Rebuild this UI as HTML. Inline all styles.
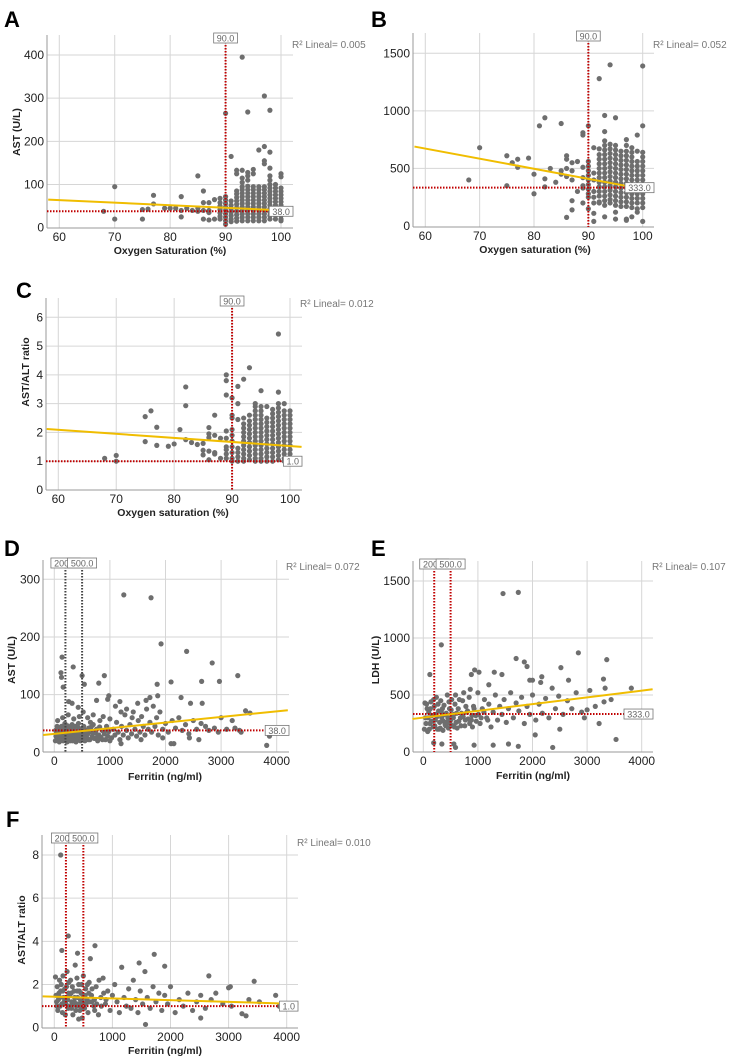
<!DOCTYPE html>
<html><head><meta charset="utf-8">
<style>
html,body{margin:0;padding:0;background:#fff;}
svg{display:block;font-family:"Liberation Sans",Arial,sans-serif;}
</style></head>
<body>
<svg id="fig" width="729" height="1059" viewBox="0 0 729 1059" xmlns="http://www.w3.org/2000/svg"></svg>
<script>
// ===== DATA =====
const satTicks=[60,70,80,90,100];
const ferTicks=[0,1000,2000,3000,4000];
const aYTicks=[0,100,200,300,400];
const bYTicks=[0,500,1000,1500];
const cYTicks=[0,1,2,3,4,5,6];
const dYTicks=[0,100,200,300];
const eYTicks=[0,500,1000,1500];
const fYTicks=[0,2,4,6,8];
const r2Labels=["R² Lineal= 0.005","R² Lineal= 0.052","R² Lineal= 0.012","R² Lineal= 0.072","R² Lineal= 0.107","R² Lineal= 0.010"];
const fitA=[[58,65],[102,39]];
const fitB=[[58,690],[98.5,335]];
const fitC=[[58,2.12],[102,1.5]];
const fitD=[[-200,30],[4200,73]];
const fitE=[[-200,290],[4200,550]];
const fitF=[[-200,1.45],[4200,1.1]];
const refA={v:[90],h:38}, refB={v:[90],h:333}, refC={v:[90],h:1.0};
const refD={v:[200,500],h:38}, refE={v:[200,500],h:333}, refF={v:[200,500],h:1.0};

const aCols=[[68,[38]],[70,[95,20]],[75,[42,20]],[76,[43]],[77,[75,55]],[79,[45]],[80,[45]],[81,[45]],[82,[72,40,25]],[83,[45]],[84,[40]],[85,[120,45,38]],[86,[85,58,40,20]],[87,[58,40,35,18]],[88,[65,20]],[89,[68,58,50,42,34,26,20]],[90,[265,72,64,56,48,40,32,24,16,8]],[91,[165,62,52,44,36,28,20,14]],[92,[133,125,85,78,70,62,54,46,38,30,22,15]],[93,[395,133,115,105,95,88,80,72,64,56,48,40,32,24,16]],[94,[268,128,120,110,96,88,80,72,64,56,48,40,32,24,16]],[95,[135,125,95,88,80,72,64,56,48,40,32,24,16]],[96,[180,95,88,80,72,64,56,48,40,32,24,16]],[97,[305,188,155,148,95,88,80,72,64,56,48,40,32,24,16]],[98,[272,175,138,120,110,100,92,84,76,68,60,52,44,36,28,20]],[99,[100,92,84,76,68,60,52,44,36,28,20]],[100,[125,118,92,84,76,68,60,52,44,36,28,20,16]]];
const bCols=[[68,[400]],[70,[680]],[75,[610,350]],[76,[550]],[77,[580,510]],[79,[590]],[80,[450,280]],[81,[870]],[82,[940,410,340]],[83,[500]],[84,[380]],[85,[890,480,450]],[86,[610,580,500,430,75]],[87,[550,480,400,220,140]],[88,[560,300]],[89,[810,790,510,420,350,330,200]],[90,[870,560,520,480,440,400,360,320,280,250,150]],[91,[680,460,400,300,250,200,110,40]],[92,[1280,670,620,580,540,500,460,420,380,340,300,260,210,200]],[93,[960,820,740,700,660,620,580,540,500,460,420,380,340,300,260,220,180,80]],[94,[1400,710,670,630,590,550,510,470,430,390,350,310,270,230,200]],[95,[940,700,660,620,580,540,500,460,420,380,340,300,260,220,180,120,60]],[96,[650,610,570,530,490,450,410,370,330,290,250,210,170]],[97,[750,700,650,610,570,530,490,450,410,370,330,290,250,210,170,60,50]],[98,[680,640,600,560,520,480,440,400,360,320,280,240,200,160,80]],[99,[790,650,560,520,480,440,400,360,320,280,240,200,150,120]],[100,[1390,870,640,600,560,520,480,440,400,360,320,280,240,200,160,40]]];
const cCols=[[68,[1.1]],[70,[1.2,1.0]],[75,[2.55,1.68]],[76,[2.75]],[77,[2.18,1.55]],[79,[1.52]],[80,[1.6]],[81,[2.1]],[82,[3.58,2.93,1.75]],[83,[1.65]],[84,[1.58]],[85,[1.62,1.38,1.22]],[86,[2.17,1.95,1.82,1.35,1.05]],[87,[2.6,1.9,1.3,1.25]],[88,[1.8,1.1]],[89,[4.0,3.8,3.3,2.05,1.8,1.5,1.4,1.25,1.1]],[90,[3.2,2.6,2.5,2.1,1.9,1.7,1.5,1.3,1.1,1.0]],[91,[3.6,3.0,2.45,1.45,1.3,1.15,1.0]],[92,[3.85,2.5,2.3,2.15,2.0,1.85,1.7,1.55,1.4,1.25,1.1,1.0]],[93,[4.25,2.6,2.4,2.25,2.1,1.95,1.8,1.65,1.5,1.35,1.2,1.05]],[94,[3.0,2.9,2.75,2.6,2.45,2.3,2.15,2.0,1.85,1.7,1.55,1.4,1.25,1.1,1.0]],[95,[3.45,2.9,2.75,2.6,2.45,2.3,2.15,2.0,1.85,1.7,1.55,1.4,1.25,1.1,1.0]],[96,[2.9,2.5,2.35,2.2,2.05,1.9,1.75,1.6,1.45,1.3,1.15,1.0]],[97,[2.8,2.65,2.5,2.35,2.2,2.05,1.9,1.75,1.6,1.45,1.3,1.15,1.0]],[98,[5.42,3.4,3.0,2.85,2.7,2.55,2.4,2.25,2.1,1.95,1.8,1.65,1.5,1.35,1.2,1.05]],[99,[3.0,2.75,2.6,2.45,2.3,2.15,2.0,1.85,1.7,1.55,1.4,1.25,1.1,1.0]],[100,[2.75,2.6,2.45,2.3,2.15,2.0,1.85,1.7,1.55,1.4,1.25,1.1,1.0]]];

const dPts=[[1250,273],[1740,268],[1920,188],[2380,175],[2840,155],[3300,133],[2650,123],[2970,123],[2100,122],[1850,118],[900,133],[800,120],[500,133],[540,118],[340,148],[140,165],[120,138],[130,130],[160,113],[260,88],[320,85],[430,78],[980,98],[960,92],[1180,88],[1720,95],[1860,98],[2280,95],[2450,85],[2660,85],[3440,72],[3520,68],[3820,12],[3870,28],[3000,60],[3250,42],[3330,38],[3360,35],[2950,35],[2600,22],[2430,25],[2100,15],[2150,15],[1950,25],[1560,22],[1200,15],[1000,20],
[20,20],[30,28],[40,35],[50,45],[60,25],[70,32],[80,40],[90,18],[100,22],[110,30],[120,38],[130,45],[140,26],[150,34],[160,20],[170,28],[180,42],[190,50],[200,24],[210,32],[220,38],[230,18],[240,28],[250,35],[260,44],[270,22],[280,30],[290,40],[300,26],[310,34],[320,48],[330,20],[340,28],[350,38],[360,24],[370,32],[380,45],[390,18],[400,28],[410,36],[420,22],[430,30],[440,42],[450,26],[460,34],[470,20],[480,40],[490,28],[510,35],[520,24],[530,45],[540,30],[550,20],[560,38],[580,26],[600,32],[620,42],[640,22],[660,36],[680,28],[700,48],[720,24],[740,34],[760,40],[780,20],[800,30],[820,55],[840,26],[860,38],[880,62],[900,32],[920,22],[940,45],[960,28],[980,36],[1000,58],[1030,25],[1060,40],[1090,30],[1120,52],[1150,35],[1180,22],[1210,45],[1240,30],[1270,65],[1300,38],[1330,25],[1360,48],[1390,32],[1420,70],[1450,40],[1480,28],[1510,55],[1540,35],[1570,62],[1600,45],[1630,30],[1660,75],[1690,40],[1720,52],[1750,35],[1780,80],[1810,45],[1840,60],[1870,30],[1900,70],[1950,40],[2000,50],[2050,35],[2120,55],[2180,42],[2240,60],[2300,38],[2360,48],[2420,32],[2500,55],[2560,40],[2640,50],[2720,45],[2780,38],[2880,42],[3100,40],[3200,55],
[60,55],[150,60],[250,65],[350,58],[450,62],[520,70],[600,60],[700,65],[760,90],[650,52],[1100,80],[1300,75],[1500,85],[1650,90],[1400,60],[1200,70],
[25,38],[75,24],[115,42],[185,30],[235,46],[285,20],[335,40],[385,30],[435,50],[485,22],[565,30],[615,22],[665,44],[715,34],[765,26],[815,44],[865,22],[915,38]];

const ePts=[[1460,1390],[1740,1400],[330,940],[2840,870],[3360,810],[1700,820],[1850,790],[1900,750],[3810,560],[3530,110],[2370,40],[1740,50],[1560,70],[1280,60],[930,60],[590,40],[560,70],[340,70],[190,80],[2050,150],[2500,200],[3220,250],[3000,370],[2520,740],[2660,630],[2950,300],[3330,560],[3310,440],[3440,460],[3300,640],[880,680],[940,720],[1020,700],[1200,590],[1440,680],[1300,700],[2150,610],[2170,660],[1950,630],[2000,630],[120,680],
[20,200],[40,300],[60,420],[80,180],[100,350],[120,250],[140,440],[160,320],[180,220],[200,400],[220,280],[240,480],[260,200],[280,360],[300,260],[320,450],[340,300],[360,190],[380,410],[400,240],[420,340],[440,500],[460,210],[480,380],[500,280],[520,460],[540,230],[560,330],[580,420],[600,260],[640,380],[680,300],[720,450],[760,230],[800,350],[840,480],[880,280],[920,400],[960,320],[1000,520],[1040,250],[1080,380],[1120,460],[1160,300],[1200,420],[1240,220],[1280,350],[1320,500],[1360,280],[1400,400],[1440,330],[1480,460],[1520,260],[1560,380],[1600,520],[1650,300],[1700,430],[1750,360],[1800,480],[1850,250],[1900,400],[1950,330],[2000,500],[2060,280],[2120,420],[2180,340],[2240,470],[2300,300],[2360,560],[2420,380],[2480,490],[2560,330],[2640,450],[2720,380],[2800,520],[2900,350],[3050,540],[3150,400],
[30,430],[70,380],[110,200],[150,270],[190,460],[230,330],[270,420],[310,210],[350,380],[390,330],[430,260],[470,440],[510,370],[550,300],[590,500],[620,210],[660,460],[700,340],[740,520],[780,400],[820,290],[860,550],[900,220],
[50,250],[90,300],[130,380],[170,270],[210,230],[250,310],[290,200],[330,350],[370,270],[410,230],[450,300],[490,250],[530,320],[570,220],[610,340],[650,270],[690,230],[730,310],[770,280],[810,360],[850,250],[890,320],[930,380],[970,270],[1010,330],[1060,300],[1110,350],[1180,280]];

const fPts=[[110,8.0],[240,4.25],[130,3.58],[700,3.8],[400,3.45],[620,3.2],[1720,3.4],[1900,2.85],[1460,3.0],[2660,2.4],[3440,2.15],[3000,1.85],[3030,1.9],[3810,1.5],[3870,1.0],[3530,1.2],[1570,0.15],[2520,0.45],[3300,0.55],[3230,0.65],[420,0.4],[480,0.45],
[20,2.35],[40,1.2],[60,0.8],[80,1.6],[100,1.0],[120,2.0],[140,0.7],[160,1.4],[180,1.8],[200,1.1],[220,2.6],[240,0.9],[260,1.5],[280,2.2],[300,1.2],[320,0.6],[340,1.7],[360,2.9],[380,1.0],[400,1.4],[420,2.0],[440,0.8],[460,1.6],[480,1.2],[500,2.4],[520,0.9],[540,1.8],[560,1.3],[580,0.7],[600,2.1],[640,1.5],[680,1.0],[720,1.9],[760,0.6],[800,1.4],[840,2.3],[880,1.1],[920,1.7],[960,0.8],[1000,1.5],[1040,2.0],[1080,1.2],[1120,0.7],[1160,2.8],[1200,1.4],[1240,1.0],[1280,1.8],[1320,0.9],[1360,2.2],[1400,1.3],[1440,0.7],[1480,1.7],[1520,1.1],[1560,2.6],[1600,1.4],[1650,0.9],[1700,1.9],[1750,1.2],[1800,1.6],[1850,0.8],[1900,1.5],[1950,1.1],[2000,1.9],[2080,0.7],[2150,1.3],[2220,1.0],[2300,1.6],[2380,0.8],[2450,1.2],[2520,1.5],[2600,0.9],[2700,1.3],[2780,1.6],[2900,1.1],[3050,1.0],[3350,1.3],
[30,1.5],[50,1.9],[70,1.3],[90,2.2],[110,1.7],[130,1.1],[150,2.4],[170,1.2],[190,0.6],[210,1.9],[230,1.3],[250,2.1],[270,1.0],[290,1.6],[310,1.9],[330,1.1],[350,1.4],[370,0.8],[390,2.3],[410,1.1],[430,1.7],[450,1.3],[470,2.0],[490,0.9],[530,1.5],[570,2.0],[610,1.2],[650,1.8],[690,1.3],[730,1.1],[770,2.2],[810,1.0],[850,1.6],[890,1.3],
[45,1.0],[95,1.4],[145,1.7],[195,1.3],[245,1.6],[295,0.9],[345,1.2],[395,1.7],[445,1.0],[495,1.5],[545,1.1],[595,1.6],[645,1.2],[695,0.8]];

// ===== LAYOUT (pixels) =====
const panels=[
 {id:"a",letter:"A",lx:4,ly:27,L:47,R:293,T:35,B:228,x0:[60,59.3],x1:[100,281],y0:[0,227.7],y1:[400,55],xt:satTicks,yt:aYTicks,cols:aCols,fit:fitA,ref:refA,vcol:"#c00000",hl:"38.0",xtitle:"Oxygen Saturation (%)",xtx:170,xty:254,ytitle:"AST (U/L)",ytx:20,yty:132,r2x:292,r2y:48},
 {id:"b",letter:"B",lx:371,ly:27,L:413,R:654,T:33,B:227,x0:[60,425.3],x1:[100,642.7],y0:[0,226],y1:[1500,53.3],xt:satTicks,yt:bYTicks,cols:bCols,fit:fitB,ref:refB,vcol:"#c00000",hl:"333.0",xtitle:"Oxygen saturation (%)",xtx:535,xty:253,ytitle:null,r2x:653,r2y:48},
 {id:"c",letter:"C",lx:16,ly:298,L:46,R:302,T:298,B:490,x0:[60,58.3],x1:[100,290],y0:[0,490],y1:[6,317.3],xt:satTicks,yt:cYTicks,cols:cCols,fit:fitC,ref:refC,vcol:"#c00000",hl:"1.0",xtitle:"Oxygen saturation (%)",xtx:173,xty:516,ytitle:"AST/ALT ratio",ytx:29,yty:372,r2x:300,r2y:307},
 {id:"d",letter:"D",lx:4,ly:556,L:43,R:289,T:560,B:752,x0:[0,54.3],x1:[4000,276.7],y0:[0,752.3],y1:[300,579.3],xt:ferTicks,yt:dYTicks,pts:dPts,fit:fitD,ref:refD,vcol:"#444",hl:"38.0",xtitle:"Ferritin (ng/ml)",xtx:165,xty:780,ytitle:"AST (U/L)",ytx:15,yty:660,r2x:286,r2y:570},
 {id:"e",letter:"E",lx:371,ly:556,L:413,R:653,T:561,B:752,x0:[0,423.3],x1:[4000,641.7],y0:[0,752],y1:[1500,581],xt:ferTicks,yt:eYTicks,pts:ePts,fit:fitE,ref:refE,vcol:"#c00000",hl:"333.0",xtitle:"Ferritin (ng/ml)",xtx:533,xty:779,ytitle:"LDH (U/L)",ytx:379,yty:660,r2x:652,r2y:570},
 {id:"f",letter:"F",lx:6,ly:827,L:42,R:298,T:835,B:1028,x0:[0,54.3],x1:[4000,286.7],y0:[0,1027.7],y1:[8,855],xt:ferTicks,yt:fYTicks,pts:fPts,fit:fitF,ref:refF,vcol:"#c00000",hl:"1.0",xtitle:"Ferritin (ng/ml)",xtx:165,xty:1054,ytitle:"AST/ALT ratio",ytx:25,yty:930,r2x:297,r2y:846}
];

const NS="http://www.w3.org/2000/svg";
const svg=document.getElementById("fig");
function mk(tag,attrs,parent){const e=document.createElementNS(NS,tag);for(const k in attrs)e.setAttribute(k,attrs[k]);(parent||svg).appendChild(e);return e;}
function lin(a,b){return v=>a[1]+(v-a[0])*(b[1]-a[1])/(b[0]-a[0]);}
function fmtTick(v){return String(v);}

panels.forEach(p=>{
 const sx=lin(p.x0,p.x1), sy=lin(p.y0,p.y1);
 const g=mk("g",{});
 
 
 const lt=mk("text",{x:p.lx,y:p.ly,"font-size":"22","font-weight":"bold",fill:"#000"},g);
 lt.textContent=p.letter;
 
 
 p.xt.forEach(t=>{const x=sx(t);
  const gl=mk("line",{x1:x,x2:x,y1:p.T,y2:p.B,stroke:"#d6d6d6","stroke-width":1},g);
  
  
  const tx=mk("text",{x:x,y:p.B+13,"font-size":"12",fill:"#222","text-anchor":"middle"},g);
  tx.textContent=fmtTick(t);
  
  
 });
 p.yt.forEach(t=>{const y=sy(t);
  if(t!==0){const gl=mk("line",{x1:p.L,x2:p.R,y1:y,y2:y,stroke:"#d6d6d6","stroke-width":1},g);
  
  }
  const ty=mk("text",{x:p.L-3,y:y+4,"font-size":"12",fill:"#222","text-anchor":"end"},g);
  ty.textContent=fmtTick(t);
  
  
 });
 const ax=mk("line",{x1:p.L,x2:p.L,y1:p.T,y2:p.B,stroke:"#999","stroke-width":1},g);
 
 
 const bx=mk("line",{x1:p.L,x2:p.R,y1:p.B,y2:p.B,stroke:"#999","stroke-width":1},g);
 
 
 const pts=[];
 if(p.cols)p.cols.forEach(c=>c[1].forEach(v=>pts.push([c[0],v])));
 if(p.pts)p.pts.forEach(q=>pts.push(q));
 pts.forEach(q=>{
  const c=mk("circle",{cx:sx(q[0]),cy:sy(q[1]),r:2.6,fill:"#6e6e6e"},g);
  
  
 });
 const hy=sy(p.ref.h);
 const hl=mk("line",{x1:p.L,x2:p.R-14,y1:hy,y2:hy,stroke:"#c00000","stroke-width":2,"stroke-dasharray":"1.5,1.5"},g);
 
 
 p.ref.v.forEach(v=>{const x=sx(v);
  const vl=mk("line",{x1:x,x2:x,y1:p.T+4,y2:p.B,stroke:p.vcol,"stroke-width":2,"stroke-dasharray":"1.5,1.5"},g);
  
  
 });
 const fl=mk("line",{x1:sx(p.fit[0][0]),y1:sy(p.fit[0][1]),x2:sx(p.fit[1][0]),y2:sy(p.fit[1][1]),stroke:"#f0bd00","stroke-width":2},g);
 
 
 function box(cx,cy,txt,anchorRight){
  const w=txt.length*5.2+3, h=10;
  const x=anchorRight?cx-w:cx-w/2;
  const r=mk("rect",{x:x,y:cy-h/2,width:w,height:h,fill:"#fff",stroke:"#777","stroke-width":0.8},g);
  
  
  const t=mk("text",{x:x+w/2,y:cy+3.5,"font-size":"9",fill:"#666","text-anchor":"middle"},g);
  t.textContent=txt;
  
  
 }
 p.ref.v.forEach(v=>box(sx(v),p.T+3,v.toFixed(1),false));
 box(p.R,hy,p.hl,true);
 const r2=mk("text",{x:p.r2x,y:p.r2y,"font-size":"10",fill:"#777"},g);
 r2.textContent=r2Labels[panels.indexOf(p)];
 
 
 const xt=mk("text",{x:p.xtx,y:p.xty,"font-size":"10.5","font-weight":"bold",fill:"#222","text-anchor":"middle"},g);
 xt.textContent=p.xtitle;
 
 
 if(p.ytitle){
  const yt=mk("text",{x:p.ytx,y:p.yty,"font-size":"10.5","font-weight":"bold",fill:"#222","text-anchor":"middle",transform:`rotate(-90 ${p.ytx} ${p.yty})`},g);
  yt.textContent=p.ytitle;
  
  
 }
});
</script>
</body></html>
